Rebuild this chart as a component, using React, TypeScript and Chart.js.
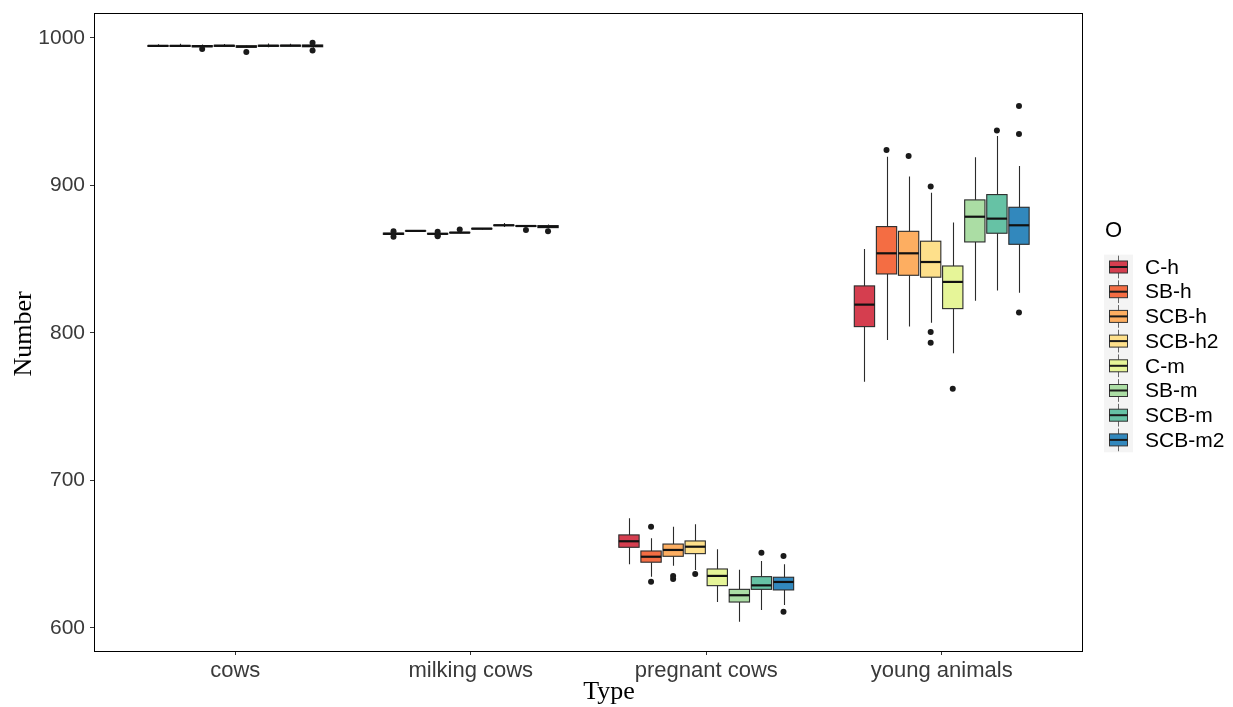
import React, { useEffect, useRef } from "react";
import { Chart, registerables } from "chart.js";

Chart.register(...registerables);

const TYPES = ["cows", "milking cows", "pregnant cows", "young animals"];
const GROUPS = ["C-h", "SB-h", "SCB-h", "SCB-h2", "C-m", "SB-m", "SCB-m", "SCB-m2"];
const COLORS = ["#D53E4F", "#F46D43", "#FDAE61", "#FEE08B", "#E6F598", "#ABDDA4", "#66C2A5", "#3288BD"];
const Y_TICKS = [600, 700, 800, 900, 1000];

// [lower whisker, Q1, median, Q3, upper whisker] per group
const cowsStats = [
  [994.0, 994.3, 994.6, 994.9, 995.7],
  [994.0, 994.3, 994.6, 994.9, 996.0],
  [993.6, 994.0, 994.4, 994.8, 995.6],
  [994.0, 994.3, 994.7, 995.0, 995.9],
  [993.2, 993.7, 994.1, 994.7, 995.0],
  [993.7, 994.3, 994.7, 995.0, 996.3],
  [994.0, 994.4, 994.8, 995.0, 996.0],
  [993.4, 994.0, 994.6, 995.2, 996.0],
];
const cowsOutliers = [[], [], [992.5], [], [990.5], [], [], [991.4, 996.8]];

const milkingStats = [
  [866.3, 866.8, 867.2, 867.7, 868.2],
  [868.9, 869.1, 869.2, 869.3, 869.5],
  [866.6, 867.0, 867.2, 867.5, 867.9],
  [867.6, 867.9, 868.0, 868.2, 868.4],
  [870.2, 870.5, 870.7, 870.9, 871.2],
  [871.8, 872.8, 873.0, 873.2, 874.6],
  [872.0, 872.3, 872.5, 872.7, 873.0],
  [870.8, 871.4, 872.0, 872.8, 873.5],
];
const milkingOutliers = [[865.2, 868.9], [], [865.6, 866.0, 868.6], [870.1], [], [], [869.8], [869.0]];

const pregnantStats = [
  [643.2, 654.7, 658.8, 663.1, 674.4],
  [634.8, 644.6, 648.3, 652.2, 660.8],
  [642.2, 648.6, 652.9, 656.9, 668.7],
  [639.3, 650.4, 655.1, 659.0, 670.3],
  [617.6, 628.7, 635.3, 640.0, 653.3],
  [604.3, 617.6, 622.2, 626.2, 639.5],
  [612.2, 626.2, 628.9, 634.8, 645.4],
  [615.6, 625.8, 631.2, 634.4, 643.2],
];
const pregnantOutliers = [[], [631.4, 668.7], [633.2, 635.3], [636.6], [], [], [651.0], [611.0, 648.8]];

const youngStats = [
  [767.0, 804.3, 819.2, 831.9, 856.9],
  [795.3, 840.0, 854.0, 872.1, 919.5],
  [804.3, 839.1, 854.0, 868.9, 906.0],
  [807.0, 837.8, 848.1, 862.2, 895.1],
  [786.2, 816.5, 834.6, 845.4, 874.8],
  [821.9, 861.7, 878.8, 890.2, 919.1],
  [828.7, 867.6, 877.5, 893.8, 933.6],
  [827.3, 860.1, 873.0, 885.2, 913.2],
];
const youngOutliers = [[], [924.1], [920.0], [793.4, 800.7, 899.2], [762.2], [], [937.2], [813.8, 934.9, 953.9]];

const ALL_STATS = [cowsStats, milkingStats, pregnantStats, youngStats];
const ALL_OUTLIERS = [cowsOutliers, milkingOutliers, pregnantOutliers, youngOutliers];

const DODGE = 0.75;
const SLOT = DODGE / GROUPS.length;
const BOX_W = SLOT * 0.92;
const xPos = (t: number, g: number) => t + (g - (GROUPS.length - 1) / 2) * SLOT;

const boxPlugin = {
  id: "boxes",
  beforeDatasetsDraw(chart: any) {
    const { ctx, scales } = chart;
    const xs = scales.x;
    const ys = scales.y;
    ctx.save();
    ALL_STATS.forEach((stats, t) => {
      stats.forEach((s, g) => {
        const [lo, q1, med, q3, hi] = s;
        const cx = Math.round(xs.getPixelForValue(xPos(t, g))) + 0.5;
        const left = xs.getPixelForValue(xPos(t, g) - BOX_W / 2);
        const right = xs.getPixelForValue(xPos(t, g) + BOX_W / 2);
        const yLo = ys.getPixelForValue(lo);
        const yQ1 = ys.getPixelForValue(q1);
        const yMed = ys.getPixelForValue(med);
        const yQ3 = ys.getPixelForValue(q3);
        const yHi = ys.getPixelForValue(hi);
        ctx.strokeStyle = "#2b2b2b";
        ctx.lineWidth = 1.1;
        ctx.beginPath();
        ctx.moveTo(cx, yLo);
        ctx.lineTo(cx, yQ1);
        ctx.moveTo(cx, yQ3);
        ctx.lineTo(cx, yHi);
        ctx.stroke();
        ctx.fillStyle = COLORS[g];
        ctx.fillRect(left, yQ3, right - left, yQ1 - yQ3);
        ctx.strokeRect(left, yQ3, right - left, yQ1 - yQ3);
        ctx.lineWidth = 2.2;
        ctx.strokeStyle = "#111";
        ctx.beginPath();
        ctx.moveTo(left, yMed);
        ctx.lineTo(right, yMed);
        ctx.stroke();
      });
    });
    ctx.restore();
  },
  afterDraw(chart: any) {
    const { ctx, chartArea } = chart;
    ctx.save();
    // panel border
    ctx.strokeStyle = "#000";
    ctx.lineWidth = 1;
    ctx.strokeRect(chartArea.left + 0.5, chartArea.top + 0.5, chartArea.right - chartArea.left - 1, chartArea.bottom - chartArea.top);
    // axis titles
    ctx.fillStyle = "#000";
    ctx.font = "26px 'Liberation Serif', 'Times New Roman', serif";
    ctx.textAlign = "center";
    ctx.textBaseline = "middle";
    ctx.fillText("Type", 609, 692);
    ctx.save();
    ctx.translate(24, 334);
    ctx.rotate(-Math.PI / 2);
    ctx.fillText("Number", 0, 0);
    ctx.restore();
    // legend
    ctx.textAlign = "left";
    ctx.font = "22px 'Liberation Sans', Arial, sans-serif";
    ctx.fillText("O", 1105, 231);
    const step = 24.7;
    const y0 = 267;
    ctx.fillStyle = "#F4F4F4";
    ctx.fillRect(1104, y0 - step / 2, 29, step * GROUPS.length);
    GROUPS.forEach((name, i) => {
      const cy = y0 + i * step;
      ctx.strokeStyle = "#666";
      ctx.lineWidth = 1;
      ctx.beginPath();
      ctx.moveTo(1118.5, cy - step / 2 + 1);
      ctx.lineTo(1118.5, cy + step / 2 - 1);
      ctx.stroke();
      ctx.fillStyle = COLORS[i];
      ctx.fillRect(1109.5, cy - 6, 18, 12);
      ctx.strokeStyle = "#333";
      ctx.strokeRect(1109.5, cy - 6, 18, 12);
      ctx.lineWidth = 2;
      ctx.strokeStyle = "#1a1a1a";
      ctx.beginPath();
      ctx.moveTo(1109.5, cy);
      ctx.lineTo(1127.5, cy);
      ctx.stroke();
      ctx.fillStyle = "#000";
      ctx.font = "21px 'Liberation Sans', Arial, sans-serif";
      ctx.textBaseline = "middle";
      ctx.fillText(name, 1145, cy + 1);
    });
    ctx.restore();
  },
};

export default function App() {
  const ref = useRef<HTMLCanvasElement | null>(null);
  useEffect(() => {
    if (!ref.current) return;
    const outlierData: { x: number; y: number }[] = [];
    ALL_OUTLIERS.forEach((arr, t) =>
      arr.forEach((vals, g) => vals.forEach((v) => outlierData.push({ x: xPos(t, g), y: v })))
    );
    const chart = new Chart(ref.current, {
      type: "scatter",
      data: {
        datasets: [
          {
            label: "outliers",
            data: outlierData,
            pointRadius: 3,
            pointBackgroundColor: "#1a1a1a",
            pointBorderWidth: 0,
          },
        ],
      },
      options: {
        animation: false,
        responsive: false,
        devicePixelRatio: 1,
        layout: { padding: { top: 13, right: 150, left: 0, bottom: 0 } },
        plugins: { legend: { display: false }, tooltip: { enabled: false } },
        scales: {
          x: {
            type: "linear",
            min: -0.6,
            max: 3.6,
            afterBuildTicks: (s: any) => {
              s.ticks = [0, 1, 2, 3].map((v) => ({ value: v }));
            },
            afterFit: (s: any) => {
              s.height = 56;
              s.paddingLeft = 0;
              s.paddingRight = 0;
            },
            ticks: {
              callback: (v: any) => TYPES[v as number] ?? "",
              color: "#3a3a3a",
              font: { family: "'Liberation Sans', Arial, sans-serif", size: 22 },
              padding: 3,
              maxRotation: 0,
              autoSkip: false,
            },
            grid: { display: true, drawOnChartArea: false, drawTicks: true, tickLength: 4, color: "#333" },
            border: { display: false },
          },
          y: {
            type: "linear",
            min: 584.4,
            max: 1016.9,
            afterBuildTicks: (s: any) => {
              s.ticks = Y_TICKS.map((v) => ({ value: v }));
            },
            afterFit: (s: any) => {
              s.width = 94;
              s.paddingTop = 0;
              s.paddingBottom = 0;
            },
            ticks: {
              callback: (v: any) => String(v),
              color: "#3a3a3a",
              font: { family: "'Liberation Sans', Arial, sans-serif", size: 21 },
              padding: 5,
            },
            grid: { display: true, drawOnChartArea: false, drawTicks: true, tickLength: 4, color: "#333" },
            border: { display: false },
          },
        },
      },
      plugins: [boxPlugin],
    });
    return () => chart.destroy();
  }, []);
  return (
    <div style={{ position: "absolute", left: 0, top: 0, width: 1233, height: 707, background: "#fff" }}>
      <canvas ref={ref} width={1233} height={707} style={{ display: "block" }} />
    </div>
  );
}
